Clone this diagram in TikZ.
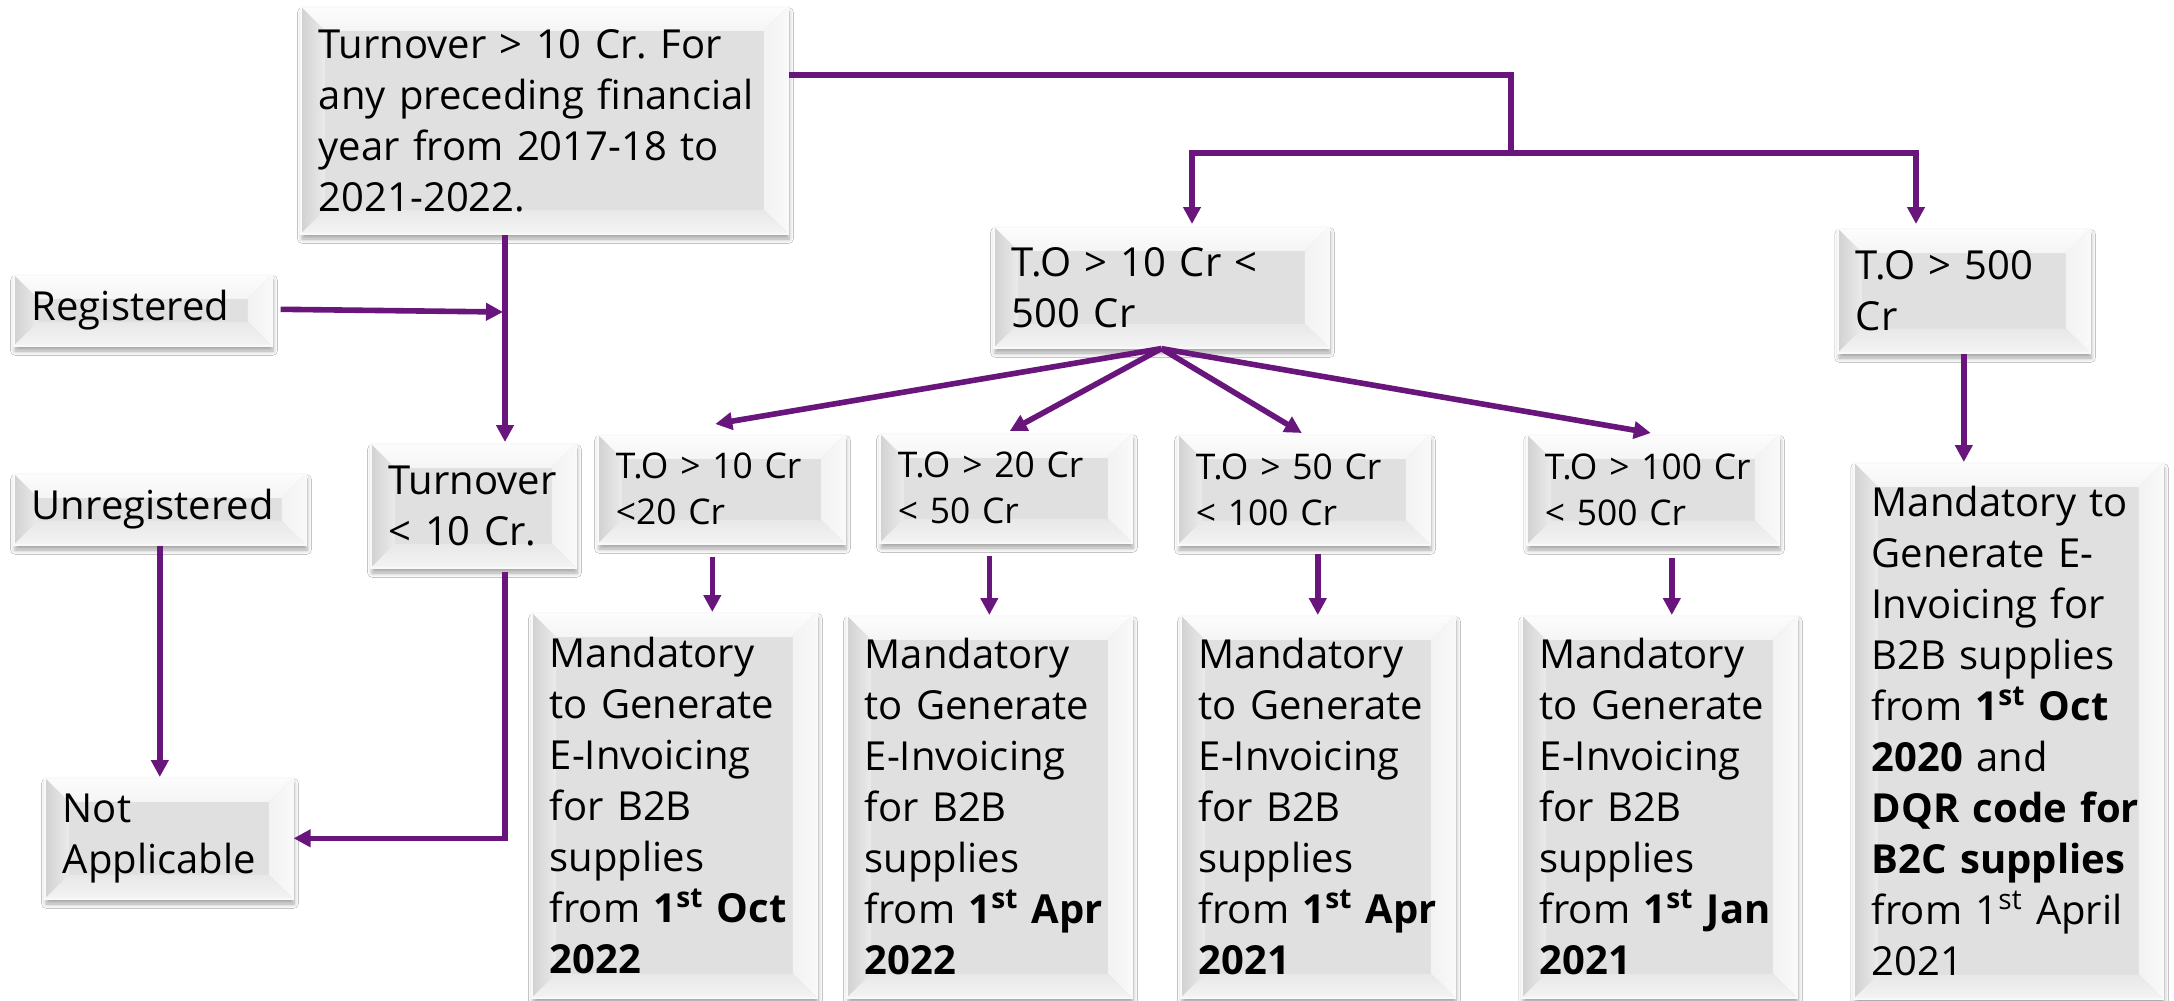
\documentclass[tikz,border=0pt]{standalone}
\usepackage{fontspec}
\setmainfont{Open Sans}
\usetikzlibrary{arrows.meta,calc,shadows.blur}
\definecolor{pur}{RGB}{104,22,124}
\definecolor{boxc}{RGB}{224,224,224}
\newcommand\fbig{\fontsize{20pt}{25.5pt}\selectfont}
\newcommand\fsmall{\fontsize{17.7pt}{23pt}\selectfont}
\newcommand\st{\textsuperscript{st}}
\newcommand\keepline[1]{\mbox{#1}}
\frenchspacing
\begin{document}
\begin{tikzpicture}[x=0.5pt,y=-0.5pt,
  box/.style={anchor=north west, fill=boxc, draw=gray!5, line width=0.8pt,
    inner xsep=9pt, inner ysep=4pt, align=left, font=\fbig,
    blur shadow={shadow xshift=0.6pt, shadow yshift=-2.6pt, shadow blur steps=6, shadow opacity=35},
    path picture={
      \coordinate (pa) at (path picture bounding box.north west);
      \coordinate (pb) at (path picture bounding box.north east);
      \coordinate (pc) at (path picture bounding box.south east);
      \coordinate (pd) at (path picture bounding box.south west);
      \fill[top color=gray!2, bottom color=gray!8] (pa) -- (pb) -- ([xshift=-12pt,yshift=-12pt]pb) -- ([xshift=12pt,yshift=-12pt]pa) -- cycle;
      \fill[left color=gray!36, right color=gray!16] (pa) -- ([xshift=12pt,yshift=-12pt]pa) -- ([xshift=12pt,yshift=12pt]pd) -- (pd) -- cycle;
      \fill[left color=gray!10, right color=gray!5] (pb) -- ([xshift=-12pt,yshift=-12pt]pb) -- ([xshift=-12pt,yshift=12pt]pc) -- (pc) -- cycle;
      \fill[top color=gray!18, bottom color=gray!9] (pd) -- ([xshift=12pt,yshift=12pt]pd) -- ([xshift=-12pt,yshift=12pt]pc) -- (pc) -- cycle;
    }},
  sbox/.style={box, font=\fsmall},
  con/.style={draw=pur, line width=2.8pt},
  arr/.style={con, -{Triangle[length=8.5pt,width=8.5pt]}},
]
\useasboundingbox (0,0) rectangle (2174,1001);
\fill[white] (0,0) rectangle (2174,1001);

% boxes
\node[box, minimum width=243.5pt, minimum height=113.5pt, text width=225.5pt] (top) at (300,6)
  {Turnover > 10 Cr. For\\any preceding financial\\year from 2017-18 to\\2021-2022.};
\node[box, minimum width=129pt, minimum height=35.5pt, text width=111pt] (reg) at (13,274) {Registered};
\node[box, minimum width=146pt, minimum height=35.5pt, text width=128pt] (unreg) at (13,473) {Unregistered};
\node[box, minimum width=102.5pt, minimum height=62pt, text width=84.5pt] (lt10) at (370,443) {Turnover\\< 10 Cr.};
\node[box, minimum width=124pt, minimum height=60.5pt, text width=106pt] (na) at (44,777) {Not\\Applicable};
\node[box, minimum width=167.5pt, minimum height=60.5pt, text width=149.5pt] (mid) at (993,226) {T.O > 10 Cr <\\500 Cr};
\node[box, minimum width=126pt, minimum height=62pt, text width=108pt] (big) at (1837,228) {T.O > 500\\Cr};

\node[sbox, minimum width=123.5pt, minimum height=54.5pt, text width=105.5pt] (s1) at (597,434) {T.O > 10 Cr\\<20 Cr};
\node[sbox, minimum width=126pt, minimum height=54.5pt, text width=108pt] (s2) at (879,433) {T.O > 20 Cr\\< 50 Cr};
\node[sbox, minimum width=126pt, minimum height=55pt, text width=108pt] (s3) at (1177,434) {T.O > 50 Cr\\< 100 Cr};
\node[sbox, minimum width=126pt, minimum height=55pt, text width=108pt] (s4) at (1526,434) {T.O > 100 Cr\\< 500 Cr};

\node[box, minimum width=142.5pt, minimum height=192.5pt, text width=124.5pt] (m1) at (531,612)
  {Mandatory\\to Generate\\E-Invoicing\\for B2B\\supplies\\\keepline{from \textbf{1\st\ Oct}}\\\textbf{2022}};
\node[box, minimum width=142.5pt, minimum height=191pt, text width=124.5pt] (m2) at (846,615)
  {Mandatory\\to Generate\\E-Invoicing\\for B2B\\supplies\\\keepline{from \textbf{1\st\ Apr}}\\\textbf{2022}};
\node[box, minimum width=137pt, minimum height=191pt, text width=119pt] (m3) at (1180,615)
  {Mandatory\\to Generate\\E-Invoicing\\for B2B\\supplies\\\keepline{from \textbf{1\st\ Apr}}\\\textbf{2021}};
\node[box, minimum width=137.5pt, minimum height=191pt, text width=119.5pt] (m4) at (1521,615)
  {Mandatory\\to Generate\\E-Invoicing\\for B2B\\supplies\\\keepline{from \textbf{1\st\ Jan}}\\\textbf{2021}};
\node[box, minimum width=154.5pt, minimum height=268pt, text width=136.5pt] (m5) at (1853,462)
  {Mandatory to\\Generate E-\\Invoicing for\\B2B supplies\\\keepline{from \textbf{1\st\ Oct}}\\\keepline{\textbf{2020} and}\\\keepline{\textbf{DQR code for}}\\\keepline{\textbf{B2C supplies}}\\\keepline{from 1\st\ April}\\2021};

% connectors
\coordinate (t1) at ($(top.north east)+(0,69)$);
\coordinate (j1) at (1511,153);
\draw[con, line width=3.2pt] (t1) -| (j1);
\draw[arr, line width=3.2pt] (j1) -| ($(mid.north west)+(199,-2)$);
\draw[arr, line width=3.2pt] (j1) -| ($(big.north west)+(79,-4)$);

\draw[arr] ($(top.south west)+(205,0)$) -- ($(lt10.north west)+(135,-1)$);
\coordinate (jr) at (503,312);
\draw[arr] ($(reg.east)+(8,-1)$) -- (jr);
\draw[arr] ($(lt10.south west)+(135,3)$) |- (na.east);
\draw[arr] (unreg.south) -- (unreg.south |- na.north);

\draw[arr] (mid.south) -- ($(s1.north)+(-6,-10)$);
\draw[arr] (mid.south) -- ($(s2.north)+(4,-2)$);
\draw[arr] (mid.south) -- ($(s3.north)+(-2,-1)$);
\draw[arr] (mid.south) -- ($(s4.north)+(-2,-1)$);

\coordinate (a1) at ($(s1.south)+(-9,12)$);
\draw[arr] (a1) -- (a1 |- m1.north);
\coordinate (a2) at ($(s2.south)+(0,12)$);
\draw[arr] (a2 -| m2.north) -- (m2.north);
\coordinate (a3) at ($(s3.south)+(0,8)$);
\draw[arr] (a3 -| m3.north) -- (m3.north);
\coordinate (a4) at ($(s4.south)+(19,12)$);
\draw[arr] (a4) -- (a4 |- m4.north);
\draw[arr] (big.south) -- (big.south |- m5.north);
\end{tikzpicture}
\end{document}
